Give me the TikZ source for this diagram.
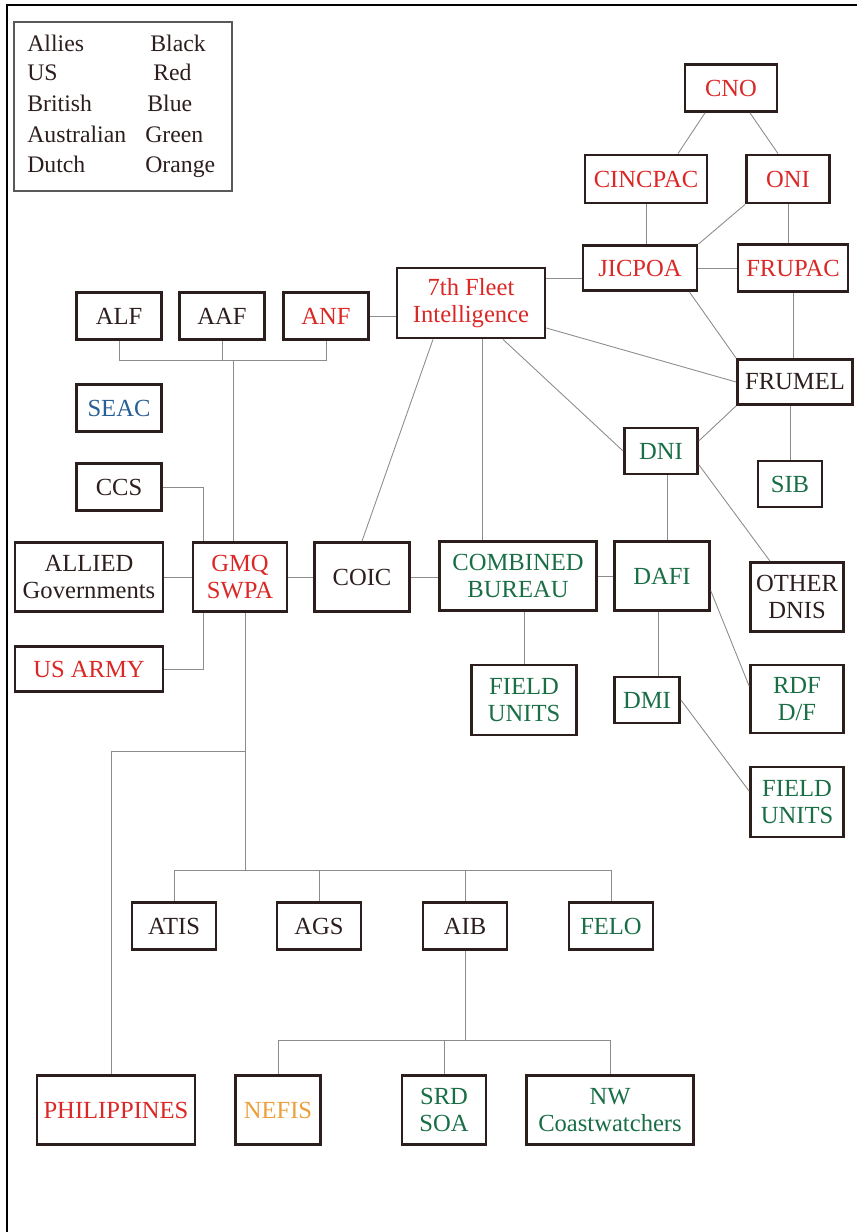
\documentclass[tikz,border=0pt]{standalone}
\usepackage{fontspec}
\setmainfont{Liberation Serif}
\usepackage{tikz}
\usetikzlibrary{calc, positioning}

\definecolor{usred}{RGB}{218,40,38}
\definecolor{britblue}{RGB}{40,95,150}
\definecolor{ausgreen}{RGB}{25,110,70}
\definecolor{dutchorange}{RGB}{235,160,60}
\definecolor{boxline}{RGB}{45,30,30}
\definecolor{linkgray}{RGB}{140,140,140}

\begin{document}
\begin{tikzpicture}[
    x=0.02cm, y=-0.02cm,
    unit/.style={draw=boxline, line width=1.6pt, align=center, inner sep=1pt, text=boxline,
        font=\fontsize{14}{15.5}\selectfont},
    link/.style={draw=linkgray, line width=0.5pt},
    us/.style={text=usred},
    brit/.style={text=britblue},
    aus/.style={text=ausgreen},
    dutch/.style={text=dutchorange},
    key/.style={anchor=base west, inner sep=0pt, text=boxline, font=\fontsize{13.5}{15}\selectfont}
]
    \useasboundingbox (0,0) rectangle (857,1232);
    \draw[line width=0.8pt] (7,1232) -- (7,5) -- (857,5);

    % legend
    \draw[draw=gray!70!black, line width=0.8pt] (14,22) rectangle (232,191);
    \node[key] (k1) at (27,51) {Allies};
    \node[key] (k2) at (27,80) {US};
    \node[key] (k3) at (27,111) {British};
    \node[key] (k4) at (27,142) {Australian};
    \node[key] (k5) at (27,172) {Dutch};
    \node[key] (c1) at (150,51) {Black};
    \node[key] (c2) at (153,80) {Red};
    \node[key] (c3) at (147,111) {Blue};
    \node[key] (c4) at (145,142) {Green};
    \node[key] (c5) at (145,172) {Orange};

    % US navy chain
    \node[unit, us, minimum width=1.84cm, minimum height=0.94cm] (cno) at (731,88) {CNO};
    \node[unit, us, minimum width=2.44cm, minimum height=0.96cm] (cincpac) at (646,179) {CINCPAC};
    \node[unit, us, minimum width=1.66cm, minimum height=0.96cm] (oni) at (788,179) {ONI};
    \node[unit, us, minimum width=2.28cm, minimum height=0.9cm] (jicpoa) at (640,268) {JICPOA};
    \node[unit, us, minimum width=2.2cm, minimum height=0.94cm] (frupac) at (793,268) {FRUPAC};
    \node[unit, us, minimum width=2.96cm, minimum height=1.4cm] (fleet) at (471,303) {7th Fleet\\Intelligence};

    % allied forces
    \node[unit, minimum width=1.7cm, minimum height=0.94cm] (alf) at (119,316) {ALF};
    \node[unit, minimum width=1.7cm, minimum height=0.94cm] (aaf) at (222,316) {AAF};
    \node[unit, us, minimum width=1.7cm, minimum height=0.94cm] (anf) at (326,316) {ANF};
    \node[unit, brit, minimum width=1.7cm, minimum height=0.94cm] (seac) at (119,408) {SEAC};
    \node[unit, minimum width=1.7cm, minimum height=0.94cm] (ccs) at (119,487) {CCS};
    \node[unit, minimum width=2.96cm, minimum height=1.38cm] (allied) at (89,577) {ALLIED\\Governments};
    \node[unit, us, minimum width=1.88cm, minimum height=1.38cm] (gmq) at (240,577) {GMQ\\SWPA};
    \node[unit, minimum width=1.9cm, minimum height=1.38cm] (coic) at (362,577) {COIC};
    \node[unit, us, minimum width=2.96cm, minimum height=0.9cm] (usarmy) at (89,669) {US ARMY};

    % australian side
    \node[unit, aus, minimum width=3.14cm, minimum height=1.38cm] (combined) at (518,576) {COMBINED\\BUREAU};
    \node[unit, aus, minimum width=1.9cm, minimum height=1.38cm] (dafi) at (662,576) {DAFI};
    \node[unit, aus, minimum width=1.46cm, minimum height=0.92cm] (dni) at (661,451) {DNI};
    \node[unit, minimum width=2.3cm, minimum height=0.9cm] (frumel) at (795,382) {FRUMEL};
    \node[unit, aus, minimum width=1.28cm, minimum height=0.92cm] (sib) at (790,484) {SIB};
    \node[unit, minimum width=1.86cm, minimum height=1.38cm] (otherdnis) at (797,597) {OTHER\\DNIS};
    \node[unit, aus, minimum width=1.86cm, minimum height=1.36cm] (rdf) at (797,699) {RDF\\D/F};
    \node[unit, aus, minimum width=1.3cm, minimum height=0.92cm] (dmi) at (647,700) {DMI};
    \node[unit, aus, minimum width=2.1cm, minimum height=1.4cm] (fieldc) at (524,700) {FIELD\\UNITS};
    \node[unit, aus, minimum width=1.86cm, minimum height=1.4cm] (fieldr) at (797,802) {FIELD\\UNITS};

    % lower sections
    \node[unit, minimum width=1.68cm, minimum height=0.94cm] (atis) at (174,926) {ATIS};
    \node[unit, minimum width=1.68cm, minimum height=0.94cm] (ags) at (319,926) {AGS};
    \node[unit, minimum width=1.68cm, minimum height=0.94cm] (aib) at (465,926) {AIB};
    \node[unit, aus, minimum width=1.68cm, minimum height=0.94cm] (felo) at (611,926) {FELO};
    \node[unit, us, minimum width=3.16cm, minimum height=1.38cm] (phil) at (116,1110) {PHILIPPINES};
    \node[unit, dutch, minimum width=1.7cm, minimum height=1.38cm] (nefis) at (278,1110) {NEFIS};
    \node[unit, aus, minimum width=1.68cm, minimum height=1.38cm] (srd) at (444,1110) {SRD\\SOA};
    \node[unit, aus, minimum width=3.34cm, minimum height=1.38cm] (nw) at (610,1110) {NW\\Coastwatchers};

    % links, top right
    \draw[link] ($(cno.south)+(-26,0)$) -- ($(cincpac.north)+(32,0)$);
    \draw[link] ($(cno.south)+(19,0)$) -- ($(oni.north)+(-10,0)$);
    \draw[link] (cincpac.south) -- (cincpac.south |- jicpoa.north);
    \draw[link] (oni.south west) -- (jicpoa.north east);
    \draw[link] (oni.south) -- (oni.south |- frupac.north);
    \draw[link] (jicpoa.east) -- (frupac.west);
    \draw[link] (jicpoa.190) -- (fleet.east |- jicpoa.190);
    \draw[link] ($(jicpoa.south east)+(-9,0)$) -- (frumel.north west);
    \draw[link] (frupac.south) -- (frupac.south |- frumel.north);
    \draw[link] (sib.north |- frumel.south) -- (sib.north);
    \draw[link] ($(fleet.east)+(0,25)$) -- (frumel.west);
    \draw[link] ($(fleet.south)+(32,0)$) -- (dni.west);
    \draw[link] ($(fleet.south)+(-38,0)$) -- (coic.north);
    \coordinate (f1) at ($(fleet.south)+(11,0)$);
    \draw[link] (f1) -- (f1 |- combined.north);
    \draw[link] (dni.15) -- (frumel.south west);
    \draw[link] (dni.-20) -- ($(otherdnis.north)+(-27,0)$);
    \coordinate (d1) at ($(dni.south)+(6,0)$);
    \draw[link] (d1) -- (d1 |- dafi.north);

    % links, middle
    \draw[link] (coic.east) -- (coic.east -| combined.west);
    \draw[link] (combined.east) -- (dafi.west);
    \draw[link] (fieldc.north |- combined.south) -- (fieldc.north);
    \draw[link] ($(dafi.east)+(0,15)$) -- ($(rdf.west)+(0,-13)$);
    \coordinate (d2) at ($(dafi.south)+(-4,0)$);
    \draw[link] (d2) -- (d2 |- dmi.north);
    \draw[link] (dmi.east) -- ($(fieldr.west)+(0,-11)$);

    % links, left
    \coordinate (topbus) at (233,360);
    \draw[link] (alf.south) |- (topbus) -| (anf.south);
    \draw[link] (aaf.south) -- (aaf.south |- topbus);
    \draw[link] (topbus) -- (topbus |- gmq.north);
    \draw[link] (anf.east) -- (anf.east -| fleet.west);
    \draw[link] (ccs.east) -| ($(gmq.north west)+(12,0)$);
    \draw[link] (usarmy.east) -| ($(gmq.south west)+(12,0)$);
    \draw[link] (allied.east) -- (gmq.west);
    \draw[link] (gmq.east) -- (coic.west);

    % links, bottom
    \coordinate (midbus) at (245,870);
    \coordinate (philbr) at (245,751);
    \draw[link] ($(gmq.south)+(5,0)$) -- (midbus);
    \draw[link] (philbr) -| ($(phil.north)+(-5,0)$);
    \draw[link] (atis.north) |- (midbus) -| (felo.north);
    \draw[link] (ags.north) -- (ags.north |- midbus);
    \draw[link] (aib.north) -- (aib.north |- midbus);
    \coordinate (lowbus) at (465,1040);
    \draw[link] (aib.south) -- (lowbus);
    \draw[link] (nefis.north) |- (lowbus) -| (nw.north);
    \draw[link] (srd.north) -- (srd.north |- lowbus);
\end{tikzpicture}
\end{document}
